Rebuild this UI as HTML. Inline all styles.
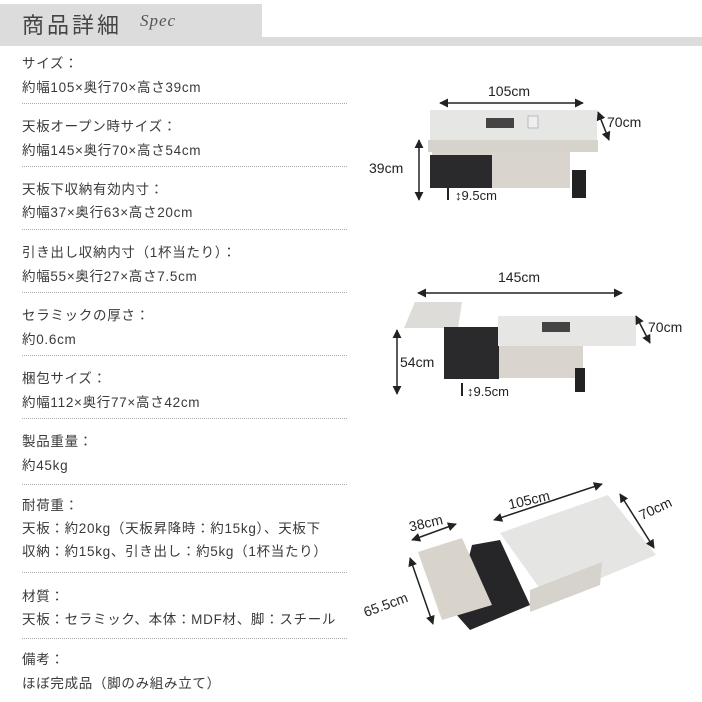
<!DOCTYPE html>
<html><head><meta charset="utf-8"><style>
body{margin:0;width:702px;height:702px;background:#fff;position:relative;overflow:hidden;font-family:"Liberation Sans","Noto Sans CJK JP",sans-serif;color:#3a3a3a}
.t{position:absolute;left:22px;font-size:13.5px;letter-spacing:0.7px;line-height:16px;white-space:nowrap}
.d{position:absolute;left:22px;width:325px;border-top:1px dotted #aaa;height:0}
</style></head><body>
<div style="position:absolute;left:0;top:4px;width:262px;height:42px;background:#dcdcdc"></div>
<div style="position:absolute;left:0;top:37px;width:702px;height:9px;background:#dcdcdc"></div>
<div style="position:absolute;left:22px;top:8px;font-size:22px;color:#444;letter-spacing:3px">商品詳細</div>
<div style="position:absolute;left:140px;top:11px;font-size:17px;font-style:italic;font-family:'Liberation Serif',serif;color:#555;letter-spacing:1px">Spec</div>

<div class="t" style="top:56px">サイズ：</div><div class="t" style="top:80px">約幅105×奥行70×高さ39cm</div><div class="d" style="top:103px"></div>
<div class="t" style="top:119px">天板オープン時サイズ：</div><div class="t" style="top:143px">約幅145×奥行70×高さ54cm</div><div class="d" style="top:166px"></div>
<div class="t" style="top:182px">天板下収納有効内寸：</div><div class="t" style="top:205px">約幅37×奥行63×高さ20cm</div><div class="d" style="top:229px"></div>
<div class="t" style="top:245px">引き出し収納内寸（1杯当たり）：</div><div class="t" style="top:269px">約幅55×奥行27×高さ7.5cm</div><div class="d" style="top:292px"></div>
<div class="t" style="top:308px">セラミックの厚さ：</div><div class="t" style="top:332px">約0.6cm</div><div class="d" style="top:355px"></div>
<div class="t" style="top:371px">梱包サイズ：</div><div class="t" style="top:395px">約幅112×奥行77×高さ42cm</div><div class="d" style="top:418px"></div>
<div class="t" style="top:434px">製品重量：</div><div class="t" style="top:458px">約45kg</div><div class="d" style="top:484px"></div>
<div class="t" style="top:498px">耐荷重：</div><div class="t" style="top:521px">天板：約20kg（天板昇降時：約15kg）、天板下</div><div class="t" style="top:544px">収納：約15kg、引き出し：約5kg（1杯当たり）</div><div class="d" style="top:572px"></div>
<div class="t" style="top:589px">材質：</div><div class="t" style="top:612px">天板：セラミック、本体：MDF材、脚：スチール</div><div class="d" style="top:638px"></div>
<div class="t" style="top:652px">備考：</div><div class="t" style="top:676px">ほぼ完成品（脚のみ組み立て）</div>

<svg style="position:absolute;left:0;top:0" width="702" height="702" font-family="Liberation Sans, sans-serif" font-size="14" fill="#222">
<defs><marker id="a" viewBox="0 0 10 10" refX="9" refY="5" markerWidth="6" markerHeight="6" orient="auto-start-reverse"><path d="M0,0L10,5L0,10z" fill="#222"/></marker></defs>
<!-- diagram 1 -->
<text x="488" y="96">105cm</text>
<line x1="440" y1="103" x2="583" y2="103" stroke="#222" stroke-width="1.5" marker-start="url(#a)" marker-end="url(#a)"/>
<rect x="430" y="110" width="167" height="30" fill="#e6e6e4"/>
<rect x="428" y="140" width="170" height="12" fill="#d6d2cc"/>
<rect x="432" y="152" width="138" height="36" fill="#d9d5ce"/>
<rect x="430" y="155" width="62" height="33" fill="#2a2a2c"/>
<rect x="572" y="170" width="14" height="28" fill="#222"/>
<rect x="486" y="118" width="28" height="10" fill="#444"/><rect x="528" y="116" width="10" height="12" fill="#eee" stroke="#bbb"/>
<line x1="598" y1="112" x2="609" y2="140" stroke="#222" stroke-width="1.5" marker-start="url(#a)" marker-end="url(#a)"/>
<text x="607" y="127">70cm</text>
<text x="369" y="173">39cm</text>
<line x1="419" y1="140" x2="419" y2="200" stroke="#222" stroke-width="1.5" marker-start="url(#a)" marker-end="url(#a)"/>
<line x1="448" y1="188" x2="448" y2="200" stroke="#222" stroke-width="2"/>
<text x="455" y="200" font-size="13">↕9.5cm</text>
<!-- diagram 2 -->
<text x="498" y="282">145cm</text>
<line x1="418" y1="293" x2="622" y2="293" stroke="#222" stroke-width="1.5" marker-start="url(#a)" marker-end="url(#a)"/>
<polygon points="415,302 462,302 458,328 404,328" fill="#dedcd8"/>
<rect x="444" y="327" width="55" height="52" fill="#2a2a2c"/>
<rect x="498" y="316" width="138" height="30" fill="#e6e6e4"/>
<rect x="499" y="346" width="84" height="32" fill="#d9d5ce"/>
<rect x="575" y="368" width="10" height="24" fill="#222"/>
<rect x="542" y="322" width="28" height="10" fill="#444"/>
<line x1="636" y1="316" x2="650" y2="343" stroke="#222" stroke-width="1.5" marker-start="url(#a)" marker-end="url(#a)"/>
<text x="648" y="332">70cm</text>
<text x="400" y="367">54cm</text>
<line x1="397" y1="330" x2="397" y2="394" stroke="#222" stroke-width="1.5" marker-start="url(#a)" marker-end="url(#a)"/>
<line x1="462" y1="383" x2="462" y2="396" stroke="#222" stroke-width="2"/>
<text x="467" y="396" font-size="13">↕9.5cm</text>
<!-- diagram 3 -->
<g transform="rotate(-13 528 500)"><text x="508" y="505">105cm</text></g>
<line x1="494" y1="520" x2="602" y2="484" stroke="#222" stroke-width="1.5" marker-start="url(#a)" marker-end="url(#a)"/>
<polygon points="500,533 608,495 656,555 548,600" fill="#e5e5e3"/>
<polygon points="530,590 602,562 600,585 530,612" fill="#d6d2cc"/>
<polygon points="472,545 500,540 530,605 470,630 455,613" fill="#262628"/>
<polygon points="418,552 462,538 492,605 442,620" fill="#d8d4cc"/>
<g transform="rotate(-13 425 520)"><text x="408" y="528">38cm</text></g>
<line x1="412" y1="540" x2="456" y2="524" stroke="#222" stroke-width="1.5" marker-start="url(#a)" marker-end="url(#a)"/>
<g transform="rotate(-20 384 603)"><text x="362" y="610">65.5cm</text></g>
<line x1="410" y1="558" x2="433" y2="624" stroke="#222" stroke-width="1.5" marker-start="url(#a)" marker-end="url(#a)"/>
<g transform="rotate(-25 658 505)"><text x="637" y="512">70cm</text></g>
<line x1="620" y1="494" x2="654" y2="548" stroke="#222" stroke-width="1.5" marker-start="url(#a)" marker-end="url(#a)"/>
</svg>
</body></html>
